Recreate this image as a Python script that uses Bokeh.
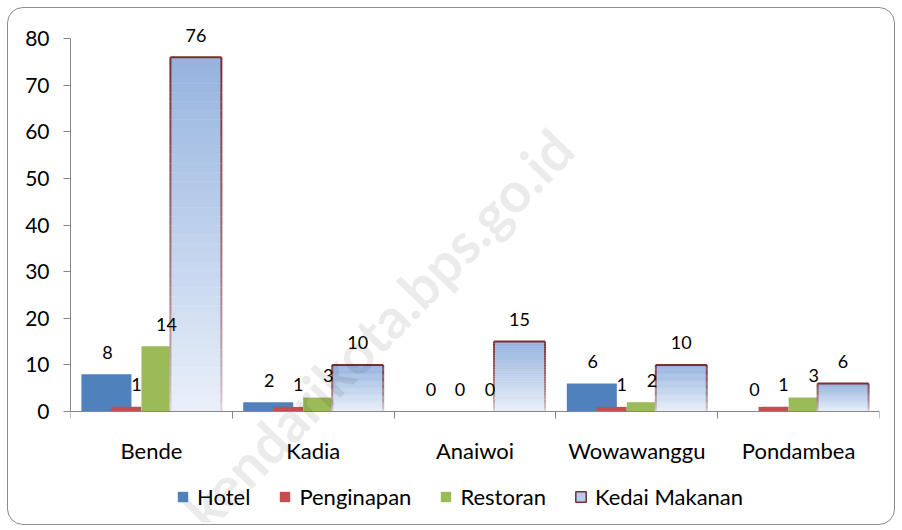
from bokeh.plotting import figure
from bokeh.layouts import column
from bokeh.models import (Range1d, FixedTicker, Legend, LegendItem, LabelSet,
                          ColumnDataSource, Label)
from bokeh.core.properties import value
from bokeh.embed import file_html
from bokeh.resources import INLINE

# ---- data ----
categories = ["Bende", "Kadia", "Anaiwoi", "Wowawanggu", "Pondambea"]
hotel = [8, 2, 0, 6, 0]
penginapan = [1, 1, 0, 1, 1]
restoran = [14, 3, 0, 2, 3]
kedai_makanan = [76, 10, 15, 10, 6]
series_names = ["Hotel", "Penginapan", "Restoran", "Kedai Makanan"]
y_ticks = [0, 10, 20, 30, 40, 50, 60, 70, 80]

# ---- styles ----
FONT = "Lato"
colors = ["#4F81BD", "#C0504D", "#9BBB59"]
bar_offsets = [-0.278, -0.155, 0.028, 0.275]
bar_widths = [0.309, 0.185, 0.179, 0.315]
label_offsets = [-0.272, -0.093, 0.093, 0.275]
top_col = (0x95, 0xB3, 0xDF)
bot_col = (0xEA, 0xF0, 0xF9)
edge_top = (0x7E, 0x2E, 0x2E)
edge_bot = (0xE2, 0xDC, 0xE6)

def mix(c1, c2, t):
    return "#%02x%02x%02x" % tuple(int(round(a + (b - a) * t)) for a, b in zip(c1, c2))

p = figure(width=886, height=516, output_backend="svg", toolbar_location=None,
           x_range=Range1d(0, 5), y_range=Range1d(-23.8, 85.8),
           min_border_left=62, min_border_top=3, min_border_right=15,
           min_border_bottom=2)
p.extra_x_ranges = {"proxy": Range1d(0, 1)}
p.grid.visible = False
p.outline_line_color = None
p.background_fill_color = "white"
p.border_fill_color = None

centers = [i + 0.5 for i in range(len(categories))]

renderers = []
for s, (vals, col) in enumerate(zip([hotel, penginapan, restoran], colors)):
    xs = [c + bar_offsets[s] for c in centers]
    renderers.append(p.vbar(x=xs, top=vals, bottom=0, width=bar_widths[s],
                            fill_color=col, line_color=None))

# gradient bars for Kedai Makanan
N = 40
ql, qr, qb, qt, qc = [], [], [], [], []
sx, sy0, sy1, sc = [], [], [], []
tl, tr, ty = [], [], []
for c, v in zip(centers, kedai_makanan):
    xc = c + bar_offsets[3]
    left = xc - bar_widths[3] / 2
    right = xc + bar_widths[3] / 2
    for k in range(N):
        b = v * k / N
        t = v * (k + 1) / N
        frac = (k + 0.5) / N
        ql.append(left); qr.append(right); qb.append(b); qt.append(t)
        qc.append(mix(bot_col, top_col, frac))
        ec = mix(edge_bot, edge_top, frac ** 0.6)
        for xe in (left, right):
            sx.append(xe); sy0.append(b); sy1.append(t); sc.append(ec)
    tl.append(left); tr.append(right); ty.append(v)

p.quad(left=ql, right=qr, bottom=qb, top=qt, fill_color=qc, line_color=qc, line_width=0.5)
p.segment(x0=sx, x1=sx, y0=sy0, y1=sy1, line_color=sc, line_width=2)
p.segment(x0=tl, x1=tr, y0=ty, y1=ty, line_color="#7E2E2E", line_width=2)

# legend proxy for the gradient series (placed outside the visible proxy range)
kedai_proxy = p.quad(left=[5], right=[6], bottom=[0], top=[1], x_range_name="proxy",
                     fill_color="#B8CBEC", line_color="#7E2E2E", line_width=1.5)
renderers.append(kedai_proxy)

# data labels
lx, ly, lt = [], [], []
for s, vals in enumerate([hotel, penginapan, restoran, kedai_makanan]):
    for c, v in zip(centers, vals):
        lx.append(c + label_offsets[s]); ly.append(v); lt.append(str(v))
labels = LabelSet(x="x", y="y", text="t", source=ColumnDataSource(dict(x=lx, y=ly, t=lt)),
                  y_offset=22, text_align="center", text_baseline="middle",
                  text_font=value(FONT), text_font_size=value("18px"), text_color="black")
p.add_layout(labels)

# axes
yax = p.yaxis[0]
yax.ticker = FixedTicker(ticks=y_ticks, minor_ticks=[])
yax.bounds = (0, 80)
yax.axis_line_color = "#868686"
yax.major_tick_line_color = "#868686"
yax.major_tick_out = 7
yax.major_tick_in = 0
yax.major_label_standoff = 14
yax.major_label_text_font = FONT
yax.major_label_text_font_size = "21px"
yax.major_label_text_color = "black"

xax = p.xaxis[0]
xax.fixed_location = 0
xax.ticker = FixedTicker(ticks=centers, minor_ticks=list(range(len(categories) + 1)))
xax.major_label_overrides = {float(c): name for c, name in zip(centers, categories)}
xax.axis_line_color = "#868686"
xax.major_tick_line_color = None
xax.major_tick_out = 0
xax.major_tick_in = 0
xax.minor_tick_line_color = "#868686"
xax.minor_tick_out = 7
xax.minor_tick_in = 0
xax.major_label_standoff = 18
xax.major_label_text_font = FONT
xax.major_label_text_font_size = "22px"
xax.major_label_text_color = "black"

# watermark
wm = Label(x=1.90, y=17.8, text="kendarikota.bps.go.id", angle=0.80,
           text_align="center", text_baseline="middle", text_font=FONT,
           text_font_style="bold", text_font_size="56px", text_color="black",
           text_alpha=0.08)
p.add_layout(wm)

legend = Legend(items=[LegendItem(label=n, renderers=[r]) for n, r in zip(series_names, renderers)],
                orientation="horizontal", location=(106, 12),
                border_line_color=None, background_fill_alpha=0,
                label_text_font=FONT, label_text_font_size="22px", label_text_color="black",
                glyph_width=13, glyph_height=13, label_standoff=8, spacing=28,
                padding=0, margin=0)
p.add_layout(legend, "center")

layout = column(p)
layout.styles = {"border": "1px solid #8c8c8c", "border-radius": "16px",
                 "margin-left": "7px", "margin-top": "7px", "background": "white"}

open("out.html", "w").write(file_html(layout, INLINE))
